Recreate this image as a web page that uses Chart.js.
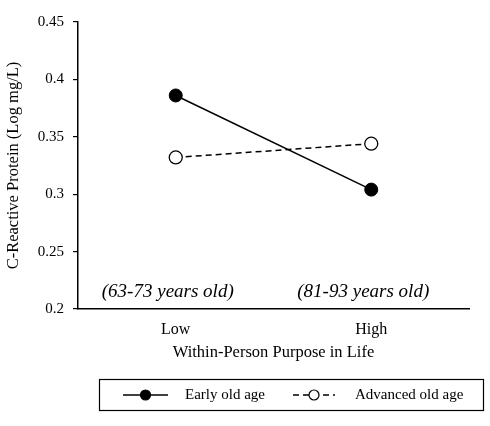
<!DOCTYPE html>
<html>
<head>
<meta charset="utf-8">
<script src="https://cdn.jsdelivr.net/npm/chart.js@4.4.1/dist/chart.umd.min.js"></script>
<style>
html,body{margin:0;padding:0;background:#fff;}
#wrap{width:490px;height:426px;position:relative;}
</style>
</head>
<body>
<div id="wrap"><canvas id="c" width="490" height="426"></canvas></div>
<script>
// data
const categories = ['Low', 'High'];
const earlyOldAge = [0.386, 0.304];
const advancedOldAge = [0.332, 0.344];
const yTicks = [0.2, 0.25, 0.3, 0.35, 0.4, 0.45];
const ageNotes = ['(63-73 years old)', '(81-93 years old)'];
const noteLevel = 0.215;

const SERIF = '"Liberation Serif", "Times New Roman", serif';

// age range notes under each category
const notesPlugin = {
  id: 'notes',
  afterDatasetsDraw(chart) {
    const {ctx, scales: {x, y}} = chart;
    ctx.save();
    ctx.fillStyle = '#000';
    ctx.font = 'italic 19px ' + SERIF;
    ctx.textAlign = 'center';
    ctx.textBaseline = 'middle';
    ageNotes.forEach((t, i) => ctx.fillText(t, x.getPixelForValue(i) - 8, y.getPixelForValue(noteLevel)));
    ctx.restore();
  }
};

// boxed legend with line + marker samples
const boxLegend = {
  id: 'boxLegend',
  afterDraw(chart) {
    const ctx = chart.ctx;
    const items = [
      {ds: chart.data.datasets[0], x0: 123, x1: 168, tx: 185},
      {ds: chart.data.datasets[1], x0: 293, x1: 335, tx: 355}
    ];
    const cy = 395;
    ctx.save();
    ctx.strokeStyle = '#000';
    ctx.lineWidth = 1.2;
    ctx.strokeRect(99.5, 379.5, 384, 31);
    items.forEach(it => {
      ctx.beginPath();
      ctx.setLineDash(it.ds.borderDash || []);
      ctx.lineWidth = 1.6;
      ctx.moveTo(it.x0, cy);
      ctx.lineTo(it.x1, cy);
      ctx.stroke();
      ctx.setLineDash([]);
      ctx.beginPath();
      ctx.arc((it.x0 + it.x1) / 2, cy, 5, 0, Math.PI * 2);
      ctx.fillStyle = it.ds.pointBackgroundColor;
      ctx.fill();
      ctx.lineWidth = 1.2;
      ctx.stroke();
      ctx.fillStyle = '#000';
      ctx.font = '15px ' + SERIF;
      ctx.textAlign = 'left';
      ctx.textBaseline = 'middle';
      ctx.fillText(it.ds.label, it.tx, cy);
    });
    ctx.restore();
  }
};

new Chart(document.getElementById('c'), {
  type: 'line',
  data: {
    labels: categories,
    datasets: [
      {label: 'Early old age', data: earlyOldAge, borderColor: '#000', borderWidth: 1.5,
       pointRadius: 6.5, pointBackgroundColor: '#000', pointBorderColor: '#000', pointBorderWidth: 1},
      {label: 'Advanced old age', data: advancedOldAge, borderColor: '#000', borderWidth: 1.5, borderDash: [6, 4],
       pointRadius: 6.5, pointBackgroundColor: '#fff', pointBorderColor: '#000', pointBorderWidth: 1.3}
    ]
  },
  options: {
    responsive: false,
    animation: false,
    layout: {padding: {left: 0, top: 22, right: 21, bottom: 61}},
    plugins: {legend: {display: false}, tooltip: {enabled: false}},
    scales: {
      x: {
        offset: true,
        grid: {display: false, drawTicks: false},
        border: {display: true, color: '#000', width: 1.5},
        ticks: {color: '#000', padding: 11, font: {family: SERIF, size: 16}},
        title: {display: true, text: 'Within-Person Purpose in Life', color: '#000',
                font: {family: SERIF, size: 16.5}, padding: {top: 0, bottom: 2}},
        afterFit: s => { s.height = 56; }
      },
      y: {
        min: 0.2,
        max: 0.45,
        afterBuildTicks: s => { s.ticks = yTicks.map(v => ({value: v})); },
        grid: {display: true, drawOnChartArea: false, drawTicks: true, tickLength: 5, color: '#000', lineWidth: 1.2},
        border: {display: true, color: '#000', width: 1.5},
        ticks: {color: '#000', padding: 9, font: {family: SERIF, size: 15}, callback: v => String(v)},
        title: {display: true, text: 'C-Reactive Protein (Log mg/L)', color: '#000',
                font: {family: SERIF, size: 16.5}, padding: {top: 4, bottom: 0}},
        afterFit: s => { s.width = 78; }
      }
    }
  },
  plugins: [notesPlugin, boxLegend]
});
</script>
</body>
</html>
